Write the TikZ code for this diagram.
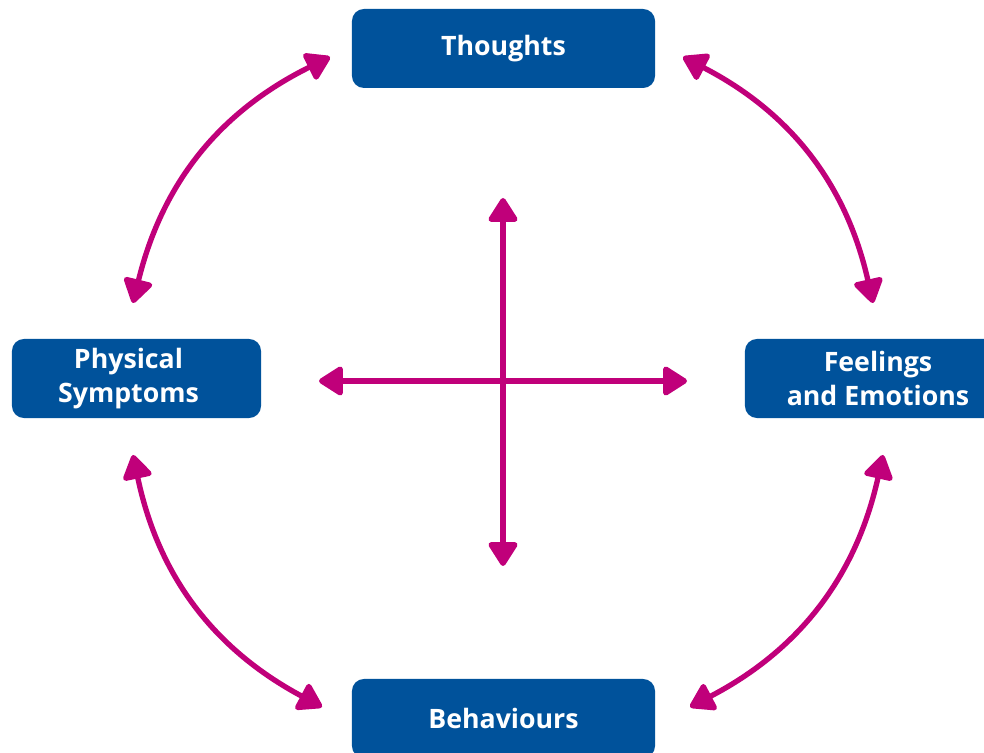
\documentclass[tikz,border=0pt]{standalone}
\usepackage{fontspec}
\setmainfont{Open Sans}
\usetikzlibrary{arrows.meta}

\definecolor{boxblue}{RGB}{0,82,155}
\definecolor{arrowpink}{RGB}{192,0,122}

\begin{document}
\begin{tikzpicture}[x=0.025cm, y=0.025cm]
\tikzset{
  BoxStyle/.style = {fill=boxblue, text=white, rounded corners=0.3cm,
                     minimum height=1.975cm, align=center, inner sep=0pt,
                     font=\fontsize{19}{24}\selectfont\bfseries},
  ArrowStyle/.style = {draw=arrowpink, line width=3.8pt,
                       {Triangle[width=0.8cm,length=0.66cm,round]}-{Triangle[width=0.8cm,length=0.66cm,round]}},
}
  \useasboundingbox (0,0) rectangle (984,753);
  \clip (0,0) rectangle (984,753);

  % cajas
  \node[BoxStyle, minimum width=7.575cm] (T) at (503.5,704.5) {Thoughts};
  \node[BoxStyle, minimum width=6.225cm] (P) at (136.5,374.5)
       {Physical\hspace*{0.4cm}\\Symptoms\hspace*{0.4cm}};
  \node[BoxStyle, minimum width=6.65cm]  (F) at (878,374.5)   {Feelings\\and Emotions};
  \node[BoxStyle, minimum width=7.575cm] (B) at (503.5,34.5)  {Behaviours};

  % extremos de las flechas curvas
  \coordinate (tl1) at (330,696);
  \coordinate (tl2) at (133,450);
  \coordinate (bl1) at (133,298);
  \coordinate (bl2) at (322,46);
  \coordinate (br1) at (690,46);
  \coordinate (br2) at (883,298);
  \coordinate (tr1) at (873,450);
  \coordinate (tr2) at (683,696);

  \draw[ArrowStyle] (tl1) to[bend right=25] (tl2);
  \draw[ArrowStyle] (bl1) to[bend right=25] (bl2);
  \draw[ArrowStyle] (br1) to[bend right=25] (br2);
  \draw[ArrowStyle] (tr1) to[bend right=25] (tr2);

  % cruz central
  \coordinate (C) at (503,372);
  \coordinate (up)    at (503,555);
  \coordinate (down)  at (503,187);
  \coordinate (left)  at (319,372);
  \coordinate (right) at (687,372);

  \draw[ArrowStyle] (down) -- (up);
  \draw[ArrowStyle] (left) -- (right);

\end{tikzpicture}
\end{document}
